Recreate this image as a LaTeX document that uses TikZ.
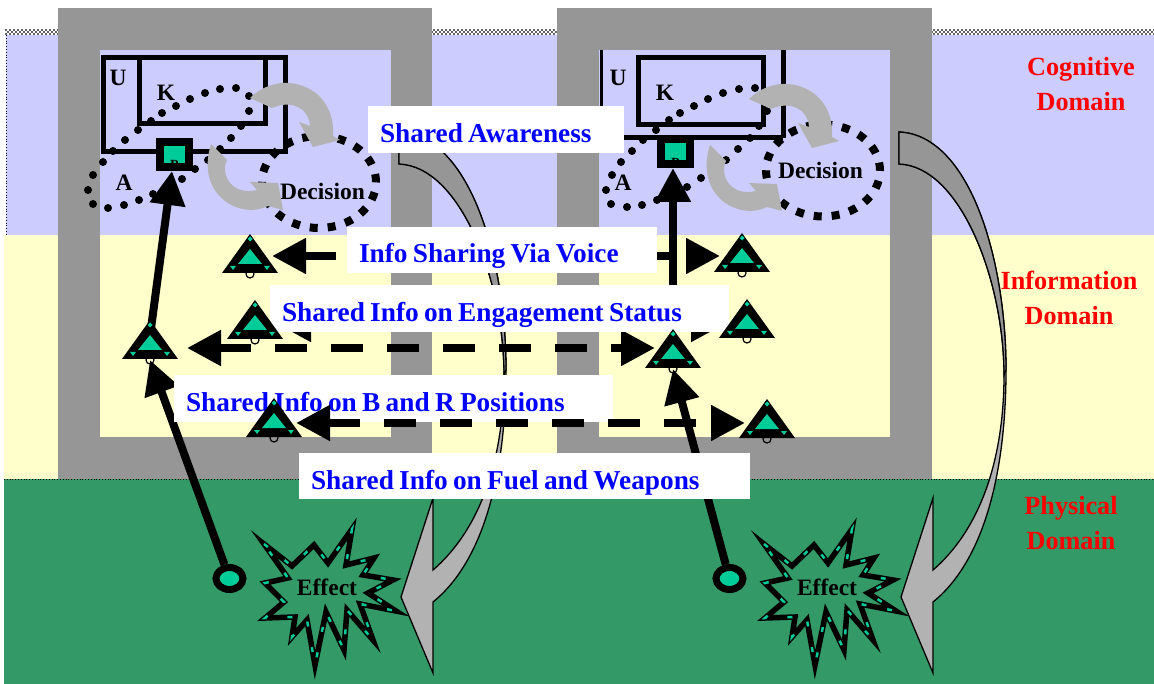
\documentclass[tikz,border=0pt]{standalone}
\usepackage{fontspec}
\setmainfont{Liberation Serif}
\usetikzlibrary{arrows.meta,shapes.geometric}

\definecolor{cogblue}{HTML}{CCCCFF}
\definecolor{infoyellow}{HTML}{FFFFCC}
\definecolor{physgreen}{HTML}{339966}
\definecolor{framegray}{HTML}{969696}
\definecolor{lightgray}{HTML}{B2B2B2}
\definecolor{teal}{HTML}{00CC99}

\tikzset{
  darktext/.style={text=black,inner sep=0pt,font=\fontsize{23.5}{26}\selectfont\bfseries},
  domaintext/.style={text=red,inner sep=0pt,align=center,font=\fontsize{26.2}{35.5}\selectfont\bfseries},
  sharedbox/.style={fill=white,text=blue,inner xsep=12pt,inner ysep=0pt,align=left,font=\fontsize{27.3}{30}\selectfont\bfseries},
  decloop/.style={ellipse,draw=black,line width=8pt,dash pattern=on 8pt off 10pt,minimum width=114pt,minimum height=92pt,inner sep=0pt},
  squarenode/.style={rectangle,draw=black,fill=teal,line width=8pt,minimum width=29pt,minimum height=25pt,inner sep=0pt},
  ringnode/.style={ellipse,draw=black,fill=teal,line width=7pt,minimum width=27pt,minimum height=22pt,inner sep=0pt},
  mainarrow/.style={line width=8pt,-{Triangle[length=34pt,width=34pt]}},
  sharearrow/.style={line width=8pt,dash pattern=on 32pt off 24pt,{Triangle[length=34pt,width=34pt]}-{Triangle[length=34pt,width=34pt]}},
  curvedarrow/.style={draw=black,line width=1.3pt,line join=miter}
}

\def\sensorlist{O1/250/256/273,O2/255/324/339,O3/150/348/359,O4/274/423/437,O5/742/256/272,O6/747/324/338,O7/673/348/368,O8/767/423/438}

\begin{document}
\begin{tikzpicture}[x=1pt,y=-1pt]

    \useasboundingbox (0,0) rectangle (1154,684);

    % --- Domain Bands ---
    \fill[cogblue] (6,35) rectangle (1154,235);
    \fill[infoyellow] (4,235) rectangle (1154,479);
    \fill[physgreen] (4,479) rectangle (1154,684);
    \foreach \y/\ph in {30/0,32/2,34/0}
      \draw[line width=2pt,black!60,dash pattern=on 2pt off 2pt,dash phase=\ph pt] (5,\y) -- (1154,\y);
    \draw[line width=.8pt,dotted] (6,35) -- (6,235);
    \draw[line width=.8pt,dotted] (4,479) -- (1154,479);

    % --- Gray Frames ---
    % The inner part of each frame shows the bands again
    \foreach \dx/\fw in {0/374,499/375} {
      \begin{scope}[shift={(\dx,0)}]
        \fill[framegray] (58,8) rectangle (58+\fw,479);
        \fill[cogblue] (100,50) rectangle (390.5,235);
        \fill[infoyellow] (100,235) rectangle (390.5,437);
      \end{scope}
    }

    % --- Long Curved Arrows ---
    \foreach \dx in {0,500} {
      \begin{scope}[shift={(\dx,0)}]
        \draw[curvedarrow,fill=lightgray] (399,132) .. controls (470,135) and (506,260) .. (506,370)
          .. controls (506,470) and (485,560) .. (433,602) -- (433,673) -- (401,597) -- (433,498) -- (433,570)
          .. controls (485,525) and (504,450) .. (504,375) .. controls (504,280) and (460,166) .. (399,164) -- cycle;
        \draw[curvedarrow,fill=framegray] (399,132) .. controls (470,135) and (506,260) .. (506,370)
          -- (504,375) .. controls (504,280) and (460,166) .. (399,164) -- cycle;
      \end{scope}
    }

    % --- U and K Boxes ---
    \draw[line width=5pt] (103.5,57.5) rectangle (285.5,151.5);
    \draw[line width=5pt] (139.5,57.5) rectangle (265,124);
    \draw[line width=3pt] (601,50) -- (601,138);
    \draw[line width=5pt] (601,138) -- (783,138);
    \draw[line width=5pt] (783,50) -- (783,138);
    \draw[line width=5pt] (638.5,57.5) rectangle (763.5,124.5);

    % --- Dotted Loops ---
    \foreach \x/\y in {249/96,236/88,220/89,205/93,190/99,176/106,162/113,151/121,138/130,125/140,113/151,103/162,93/175,88/190,93/204,108/208,124/205,139/200,153/194,167/187,182/179,195/169,208/160,220/149,231/138,241/126,249/111,
                       755/88,739/89,723/93,708/99,694/106,680/113,669/120,656/130,643/140,632/151,621/162,612/175,606/190,611/204,627/207,642/205,657/200,687/187,701/178,713/169,726/160,738/149,750/138,759/126,767/111}
      \fill (\x,\y) circle (4);

    % --- Decision Loops ---
    \node[decloop] (D1) at (319,182) {};
    \node[decloop] (D2) at (823,170.5) {};
    \node[darktext] (T1) at (322.5,191) {Decision};
    \node[darktext] (T2) at (820.5,170) {Decision};

    % --- Short Curved Arrows ---
    \foreach \dx/\dy in {0/0,499/1} {
      \begin{scope}[shift={(\dx,\dy)}]
        \fill[lightgray] (250,98) .. controls (262,86) and (278,82) .. (289,83) .. controls (315,85) and (335,105) .. (333,136)
          -- (340,140) -- (313,147) -- (299,122) -- (310,126) .. controls (310,112) and (295,98) .. (272,108) -- cycle;
        \fill[lightgray] (211,144) -- (227,160) .. controls (220,175) and (232,196) .. (257,190)
          -- (250,182) -- (278,183) -- (283,210) -- (268,206) .. controls (240,220) and (195,195) .. (211,144) -- cycle;
      \end{scope}
    }

    % --- Letters ---
    \foreach \name/\x/\y/\txt in {U1/118/78/U,K1/166/93/K,A1/124/183/A,U2/618/78/U,K2/665/93/K,A2/623/183/A}
      \node[darktext] (\name) at (\x,\y) {\txt};

    % --- Square Nodes ---
    \node[squarenode] (P1) at (174.5,154.5) {};
    \node[squarenode] (P2) at (675.5,151.5) {};
    \node[inner sep=0pt,font=\fontsize{14}{16}\selectfont\bfseries] (L1) at (174.5,165) {P};
    \node[inner sep=0pt,font=\fontsize{14}{16}\selectfont\bfseries] (L2) at (675.5,163) {P};

    % --- Ring Nodes ---
    \node[ringnode] (R1) at (229.5,578.5) {};
    \node[ringnode] (R2) at (729.5,578.5) {};

    % --- Bursts ---
    \foreach \dx/\i in {0/1,500/2} {
      \begin{scope}[shift={(\dx,0)}]
        \draw[line width=5.5pt,miter limit=12,fill=physgreen] (264,544) -- (292,566) -- (314,545) -- (328,563) -- (352,529) -- (346,565)
          -- (374,558) -- (363,575) -- (393,580) -- (368,593) -- (396,611) -- (360,604) -- (373,640) -- (347,610)
          -- (344,650) -- (326,612) -- (315,665) -- (307,620) -- (292,637) -- (295,617) -- (265,618) -- (284,602)
          -- (265,583) -- (288,578) -- cycle;
        \draw[line width=2.5pt,teal,dash pattern=on 5pt off 21pt] (264,544) -- (292,566) -- (314,545) -- (328,563) -- (352,529) -- (346,565)
          -- (374,558) -- (363,575) -- (393,580) -- (368,593) -- (396,611) -- (360,604) -- (373,640) -- (347,610)
          -- (344,650) -- (326,612) -- (315,665) -- (307,620) -- (292,637) -- (295,617) -- (265,618) -- (284,602)
          -- (265,583) -- (288,578) -- cycle;
        \node[darktext] (E\i) at (327,587) {Effect};
      \end{scope}
    }

    % --- Sensor Nodes ---
    % Only the names here, the symbols go on top at the end
    \foreach \name/\x/\y/\b in \sensorlist
      \node[rectangle,inner sep=0pt,outer sep=0pt,minimum width=44pt,minimum height={2*(\b-\y)+2}] (\name) at (\x,\y) {};

    % --- Arrows Under the Boxes ---
    \draw[sharearrow] (O1) -- (O5);
    \draw[sharearrow] (O2) -- (O6);
    \draw[sharearrow,shorten <=15pt,shorten >=-4pt] (O3) -- (O7);
    \draw[mainarrow] (O3.north) -- ([xshift=-2.5pt]P1.south);
    \draw[mainarrow] (O7.north) -- ([xshift=-2.5pt]P2.south);
    \draw[mainarrow] (R1) -- (O3.south);
    \draw[mainarrow] (R2) -- (O7.south);

    % --- Text Boxes ---
    \foreach \name/\x/\y/\bw/\bh/\txt in {S1/496/129.5/232/47/Shared Awareness,
                                          S2/502/250/286/46/Info Sharing Via Voice,
                                          S3/499.5/308.5/435/47/Shared Info on Engagement Status,
                                          S4/393.5/398.5/415/47/Shared Info on B and R Positions,
                                          S5/524.5/476/427/46/Shared Info on Fuel and Weapons}
      \node[sharedbox,text width=\bw pt,minimum height=\bh pt] (\name) at (\x,\y) {\raisebox{-13pt}[0pt][0pt]{\spaceskip=5.3pt\relax\txt}};

    % --- Arrow Over the Boxes ---
    \draw[sharearrow] (O4) -- (O8);

    % --- Sensor Symbols ---
    \foreach \name/\x/\y/\b in \sensorlist {
      \begin{scope}[shift={(\x,\b)}]
        \draw[line width=1.2pt] (0,1) circle (4);
        \fill[black] (-28,0) -- (28,0) -- (0,-39) -- cycle;
        \fill[teal] (-12,-9) -- (12,-9) -- (0,-24) -- cycle;
        \fill[teal] (0,-36.5) -- (2.5,-34) -- (0,-31.5) -- (-2.5,-34) -- cycle;
        \fill[teal] (-20,-7) -- (-14,-7) -- (-17,-3) -- cycle;
        \fill[teal] (14,-7) -- (20,-7) -- (17,-3) -- cycle;
      \end{scope}
    }

    % --- Domain Labels ---
    \node[domaintext] (C1) at (1081,84) {Cognitive\\Domain};
    \node[domaintext] (C2) at (1069,298) {Information\\Domain};
    \node[domaintext] (C3) at (1071,523) {Physical\\Domain};

\end{tikzpicture}
\end{document}
